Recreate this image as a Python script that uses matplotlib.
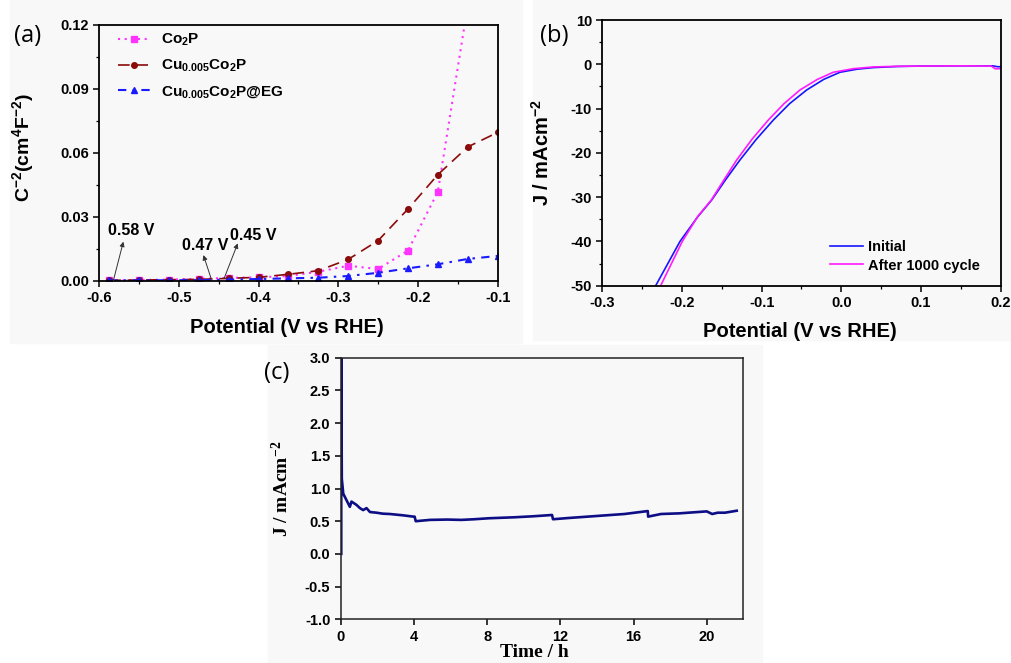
import matplotlib
matplotlib.use("Agg")
import matplotlib.pyplot as plt
from matplotlib.patches import Rectangle
from matplotlib.ticker import MultipleLocator, FormatStrFormatter

plt.rcParams['font.family'] = ['Liberation Sans', 'DejaVu Sans']
plt.rcParams['font.weight'] = 'bold'
plt.rcParams['mathtext.default'] = 'regular'
plt.rcParams['axes.unicode_minus'] = False

# ---- (a) Mott-Schottky data ----
pot_a = [-0.5875, -0.55, -0.5125, -0.475, -0.4375, -0.4, -0.3625,
         -0.325, -0.2875, -0.25, -0.2125, -0.175, -0.1375, -0.1]
co2p = [0.0002, 0.0003, 0.0005, 0.0009, 0.0013, 0.0016, 0.0022,
        0.0042, 0.0070, 0.0055, 0.0141, 0.0417, 0.129]
cu_co2p = [0.0002, 0.0003, 0.0005, 0.0006, 0.0011, 0.0016, 0.0030,
           0.0047, 0.0100, 0.0188, 0.0336, 0.0497, 0.0627, 0.0695]
cu_co2p_eg = [0.0001, 0.0002, 0.0002, 0.0003, 0.0005, 0.0008, 0.0011,
              0.0014, 0.0022, 0.0037, 0.0058, 0.0077, 0.0102, 0.0116]
legend_a = ['Co$_2$P', 'Cu$_{0.005}$Co$_2$P', 'Cu$_{0.005}$Co$_2$P@EG']
onset_labels = ['0.58 V', '0.47 V', '0.45 V']

# ---- (b) polarization curves ----
pot_initial = [-0.233, -0.2025, -0.1805, -0.1627, -0.145, -0.1272, -0.107,
               -0.0854, -0.065, -0.0435, -0.022, -0.0017, 0.020, 0.040,
               0.070, 0.100, 0.150, 0.190, 0.196, 0.200]
j_initial = [-50, -40, -34.5, -30.65, -26.0, -21.6, -17.0, -12.6, -8.9,
             -5.8, -3.4, -1.8, -1.1, -0.75, -0.5, -0.4, -0.35, -0.35,
             -0.55, -0.55]
pot_after = [-0.2268, -0.1996, -0.1800, -0.1632, -0.148, -0.1313, -0.112,
             -0.0917, -0.072, -0.0519, -0.030, -0.0101, 0.015, 0.040,
             0.070, 0.100, 0.150, 0.188, 0.193, 0.200]
j_after = [-50, -40, -34.3, -30.65, -26.3, -21.6, -16.9, -12.6, -8.9,
           -5.8, -3.4, -1.8, -1.0, -0.6, -0.45, -0.4, -0.35, -0.4,
           -1.0, -1.0]
legend_b = ['Initial', 'After 1000 cycle']

# ---- (c) chronoamperometry ----
time_h = [0.03, 0.03, 0.06, 0.14, 0.32, 0.50, 0.59, 0.86, 1.05, 1.23, 1.41,
          1.60, 1.96, 2.30, 2.69, 3.40, 3.97, 4.04, 4.10, 4.88, 5.80, 6.60,
          7.30, 8.10, 9.50, 10.50, 11.55, 11.60, 12.50, 13.50, 14.50,
          15.50, 16.78, 16.80, 17.50, 18.50, 19.50, 20.00, 20.30, 20.60,
          21.00, 21.64]
j_time = [0.0, 3.2, 1.15, 0.92, 0.82, 0.72, 0.80, 0.75, 0.70, 0.67, 0.70,
          0.64, 0.63, 0.615, 0.61, 0.59, 0.57, 0.57, 0.50, 0.52, 0.525,
          0.52, 0.53, 0.545, 0.56, 0.575, 0.595, 0.53, 0.55, 0.57, 0.59,
          0.61, 0.655, 0.57, 0.61, 0.62, 0.64, 0.65, 0.61, 0.63, 0.63, 0.66]

W, H = 1012, 663
fig = plt.figure(figsize=(W / 100, H / 100), dpi=100)


def box(l, t, r, b):
    return [l / W, 1 - b / H, (r - l) / W, (b - t) / H]


# faint panel backgrounds
for (l, t, r, b) in [(10, 0, 522, 343), (533, 0, 1012, 340), (268, 345, 762, 663)]:
    fig.patches.append(Rectangle((l / W, 1 - b / H), (r - l) / W, (b - t) / H,
                                 transform=fig.transFigure, color='#f8f8f8',
                                 zorder=-10))


def style_axes(ax, lw=1.3, labelsize=10.5):
    for s in ax.spines.values():
        s.set_linewidth(lw)
    ax.tick_params(which='major', direction='out', length=4.5, width=1.1,
                   labelsize=labelsize, top=False, right=False, pad=3)
    ax.tick_params(which='minor', direction='out', length=2.5, width=0.9,
                   top=False, right=False)
    for lab in ax.get_xticklabels() + ax.get_yticklabels():
        lab.set_fontweight('bold')
    ax.set_facecolor('none')


# ================= (a) =================
ax1 = fig.add_axes(box(99.3, 24.7, 497.6, 280.7))
ax1.plot(pot_a[:len(co2p)], co2p, linestyle=(0, (1, 2.2)), color='#ff33ff',
         lw=1.5, marker='s', ms=4, label=legend_a[0])
ax1.plot(pot_a, cu_co2p, linestyle=(0, (7, 4)), color='#8b0a0a', lw=1.2,
         marker='o', ms=4, label=legend_a[1])
ax1.plot(pot_a, cu_co2p_eg, linestyle=(0, (4, 3, 1.2, 3)), color='#1a1aff',
         lw=1.5, marker='^', ms=4.5, label=legend_a[2])
ax1.set_xlim(-0.6, -0.1)
ax1.set_ylim(0, 0.12)
ax1.xaxis.set_major_locator(MultipleLocator(0.1))
ax1.xaxis.set_minor_locator(MultipleLocator(0.05))
ax1.yaxis.set_major_locator(MultipleLocator(0.03))
ax1.yaxis.set_minor_locator(MultipleLocator(0.015))
ax1.xaxis.set_major_formatter(FormatStrFormatter('%.1f'))
ax1.yaxis.set_major_formatter(FormatStrFormatter('%.2f'))
style_axes(ax1)
ax1.set_xlabel('Potential (V vs RHE)', fontsize=14.5, fontweight='bold')
ax1.set_ylabel('C$^{-2}$(cm$^{4}$F$^{-2}$)', fontsize=14, fontweight='bold')
ax1.xaxis.set_label_coords(0.47, -0.145)
ax1.yaxis.set_label_coords(-0.16, 0.52)
leg = ax1.legend(loc='upper left', bbox_to_anchor=(0.012, 1.025), frameon=False,
                 fontsize=11, handlelength=2.1, handletextpad=0.7,
                 labelspacing=0.62)
for t in leg.get_texts():
    t.set_fontweight('bold')

arrow = dict(arrowstyle='-|>', lw=0.7, color='#333333', mutation_scale=7,
             shrinkA=0, shrinkB=0)
ax1.annotate('', xy=(-0.5698, 0.0183), xytext=(-0.5824, 0.0), arrowprops=arrow)
ax1.annotate('', xy=(-0.4693, 0.0120), xytext=(-0.4597, 0.0011), arrowprops=arrow)
ax1.annotate('', xy=(-0.4262, 0.0175), xytext=(-0.4434, 0.0010), arrowprops=arrow)
ax1.text(-0.5887, 0.0214, onset_labels[0], fontsize=11.5, fontweight='bold')
ax1.text(-0.4966, 0.0144, onset_labels[1], fontsize=11.5, fontweight='bold')
ax1.text(-0.4358, 0.0190, onset_labels[2], fontsize=11.5, fontweight='bold')

# ================= (b) =================
ax2 = fig.add_axes(box(602.3, 20.0, 1000.7, 285.7))
ax2.plot(pot_initial, j_initial, color='#1515ff', lw=1.2, label=legend_b[0])
ax2.plot(pot_after, j_after, color='#ff1aff', lw=1.2, label=legend_b[1])
ax2.set_xlim(-0.3, 0.2)
ax2.set_ylim(-50, 10)
ax2.xaxis.set_major_locator(MultipleLocator(0.1))
ax2.xaxis.set_minor_locator(MultipleLocator(0.05))
ax2.yaxis.set_major_locator(MultipleLocator(10))
ax2.yaxis.set_minor_locator(MultipleLocator(5))
ax2.xaxis.set_major_formatter(FormatStrFormatter('%.1f'))
style_axes(ax2)
ax2.set_xlabel('Potential (V vs RHE)', fontsize=14.5, fontweight='bold')
ax2.set_ylabel('J / mAcm$^{-2}$', fontsize=14.5, fontweight='bold')
ax2.xaxis.set_label_coords(0.495, -0.135)
ax2.yaxis.set_label_coords(-0.125, 0.5)
leg2 = ax2.legend(loc='lower right', bbox_to_anchor=(0.98, 0.0), frameon=False,
                  fontsize=10.5, handlelength=2.3, handletextpad=0.3,
                  labelspacing=0.3)
for t in leg2.get_texts():
    t.set_fontweight('bold')

# ================= (c) =================
ax3 = fig.add_axes(box(340.7, 357.7, 743.3, 619.3))
ax3.plot(time_h, j_time, color='#0d0d85', lw=1.9)
ax3.set_xlim(0, 22)
ax3.set_ylim(-1.0, 3.0)
ax3.xaxis.set_major_locator(MultipleLocator(4))
ax3.yaxis.set_major_locator(MultipleLocator(0.5))
ax3.yaxis.set_major_formatter(FormatStrFormatter('%.1f'))
style_axes(ax3, lw=1.1)
for s in ax3.spines.values():
    s.set_color('#222222')
serif = ['Liberation Serif', 'DejaVu Serif']
ax3.set_xlabel('Time / h', fontsize=14, fontweight='bold', family=serif)
ax3.set_ylabel('J / mAcm$^{-2}$', fontsize=14, fontweight='bold', family=serif)
ax3.xaxis.set_label_coords(0.48, -0.095)
ax3.yaxis.set_label_coords(-0.12, 0.5)

# panel letters
for letter, px, py in [('(a)', 28, 36), ('(b)', 554, 36), ('(c)', 277, 373)]:
    fig.text(px / W, 1 - py / H, letter, fontsize=17, fontweight='normal',
             family=['Open Sans', 'DejaVu Sans'], ha='center', va='center')

fig.savefig('out.png', dpi=100)
